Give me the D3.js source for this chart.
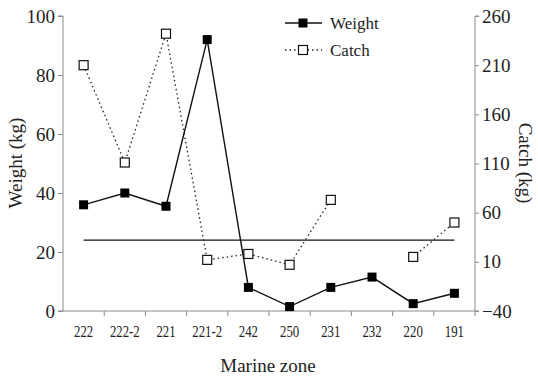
<!DOCTYPE html>
<html>
<head>
<meta charset="utf-8">
<script src="https://cdn.jsdelivr.net/npm/d3@7"></script>
<style>
body { margin: 0; background: #fff; }
svg { font-family: "Liberation Serif", "Times New Roman", serif; }
</style>
</head>
<body>
<svg id="chart" width="538" height="380"></svg>
<script>
const zones = ['222', '222-2', '221', '221-2', '242', '250', '231', '232', '220', '191'];
const weight = [36, 40, 35.5, 92, 8, 1.5, 8, 11.5, 2.5, 6];
const catch_kg = [210, 111, 242, 12, 18, 7, 73, null, 15, 50];
const ref_line = 24; // on weight axis
const left_ticks = [0, 20, 40, 60, 80, 100];
const right_ticks = [-40, 10, 60, 110, 160, 210, 260];

const svg = d3.select('#chart');
const plot_left = 63, plot_right = 475, plot_top = 16, plot_bottom = 311;
const axis_color = '#8a8a8a';
const serif = '"Liberation Serif", "Times New Roman", serif';

const x = d3.scaleBand().domain(zones).range([plot_left, plot_right]);
const y = d3.scaleLinear().domain([0, 100]).range([plot_bottom, plot_top]);
const y2 = d3.scaleLinear().domain([-40, 260]).range([plot_bottom, plot_top]);

// axes
let yAxis = svg.append('g')
	.attr('transform', 'translate(' + plot_left + ',0)')
	.call(d3.axisLeft(y).tickValues(left_ticks).tickSize(5).tickPadding(3))
	.attr('font-family', serif)
yAxis.selectAll('text').attr('font-size', 19).attr('fill', '#222')

let y2Axis = svg.append('g')
	.attr('transform', 'translate(' + plot_right + ',0)')
	.call(d3.axisRight(y2).tickValues(right_ticks).tickSize(4).tickPadding(3))
	.attr('font-family', serif)
y2Axis.selectAll('text').attr('font-size', 19).attr('fill', '#222')

let xAxis = svg.append('g')
	.attr('transform', 'translate(0,' + plot_bottom + ')')
	.call(d3.axisBottom(x).tickSize(0).tickPadding(15))
	.attr('font-family', serif)
xAxis.selectAll('text')
	.attr('font-size', 16)
	.attr('fill', '#222')
	.attr('transform', 'scale(0.8,1)')
// category boundary ticks
xAxis.selectAll('.sep')
	.data(zones)
	.enter()
	.append('line')
	.attr('x1', d => x(d) + x.bandwidth())
	.attr('x2', d => x(d) + x.bandwidth())
	.attr('y1', 0)
	.attr('y2', 5)
	.attr('stroke', axis_color)

svg.selectAll('.domain, .tick line').attr('stroke', axis_color)
yAxis.select('.domain').attr('d', 'M-5,' + plot_top + 'H0V' + plot_bottom + 'H-5')
y2Axis.select('.domain').attr('d', 'M4,' + plot_top + 'H0V' + plot_bottom + 'H4')
xAxis.select('.domain').attr('d', 'M' + plot_left + ',0H' + plot_right)

// axis titles
svg.append('text')
	.attr('transform', 'translate(22,163) rotate(-90)')
	.attr('text-anchor', 'middle')
	.attr('font-size', 19)
	.attr('fill', '#222')
	.text('Weight (kg)')

svg.append('text')
	.attr('transform', 'translate(519,163) rotate(90)')
	.attr('text-anchor', 'middle')
	.attr('font-size', 19)
	.attr('fill', '#222')
	.text('Catch (kg)')

svg.append('text')
	.attr('x', 268)
	.attr('y', 372)
	.attr('text-anchor', 'middle')
	.attr('font-size', 19)
	.attr('fill', '#222')
	.text('Marine zone')

const cx = d => x(d) + x.bandwidth()/2;

// reference line
svg.append('line')
	.attr('x1', cx(zones[0]))
	.attr('x2', cx(zones[zones.length - 1]))
	.attr('y1', y(ref_line))
	.attr('y2', y(ref_line))
	.attr('stroke', '#111')
	.attr('stroke-width', 1.3)

// catch line (dotted, with gap)
let catch_line = d3.line()
	.defined(d => d[1] != null)
	.x(d => cx(d[0]))
	.y(d => y2(d[1]))

svg.append('path')
	.attr('d', catch_line(zones.map((z, i) => [z, catch_kg[i]])))
	.attr('fill', 'none')
	.attr('stroke', '#222')
	.attr('stroke-width', 1.3)
	.attr('stroke-dasharray', '1.5,3')

// weight line
let weight_line = d3.line()
	.x(d => cx(d[0]))
	.y(d => y(d[1]))

svg.append('path')
	.attr('d', weight_line(zones.map((z, i) => [z, weight[i]])))
	.attr('fill', 'none')
	.attr('stroke', '#111')
	.attr('stroke-width', 1.4)

const ms = 9;

svg.selectAll('.catch_pt')
	.data(zones.map((z, i) => [z, catch_kg[i]]).filter(d => d[1] != null))
	.enter()
	.append('rect')
	.attr('x', d => cx(d[0]) - ms/2)
	.attr('y', d => y2(d[1]) - ms/2)
	.attr('width', ms)
	.attr('height', ms)
	.attr('fill', '#fff')
	.attr('stroke', '#111')
	.attr('stroke-width', 1.2)

svg.selectAll('.weight_pt')
	.data(zones.map((z, i) => [z, weight[i]]))
	.enter()
	.append('rect')
	.attr('x', d => cx(d[0]) - ms/2)
	.attr('y', d => y(d[1]) - ms/2)
	.attr('width', ms)
	.attr('height', ms)
	.attr('fill', '#000')

// legend
let legend = svg.append('g')

legend.append('line')
	.attr('x1', 285).attr('x2', 322).attr('y1', 23).attr('y2', 23)
	.attr('stroke', '#111').attr('stroke-width', 1.4)
legend.append('rect')
	.attr('x', 303 - ms/2).attr('y', 23 - ms/2).attr('width', ms).attr('height', ms)
	.attr('fill', '#000')
legend.append('text')
	.attr('x', 330).attr('y', 29).attr('font-size', 17).attr('fill', '#222')
	.text('Weight')

legend.append('line')
	.attr('x1', 285).attr('x2', 322).attr('y1', 50).attr('y2', 50)
	.attr('stroke', '#222').attr('stroke-width', 1.3).attr('stroke-dasharray', '1.5,3')
legend.append('rect')
	.attr('x', 303 - ms/2).attr('y', 50 - ms/2).attr('width', ms).attr('height', ms)
	.attr('fill', '#fff').attr('stroke', '#111').attr('stroke-width', 1.2)
legend.append('text')
	.attr('x', 330).attr('y', 56).attr('font-size', 17).attr('fill', '#222')
	.text('Catch')
</script>
</body>
</html>
